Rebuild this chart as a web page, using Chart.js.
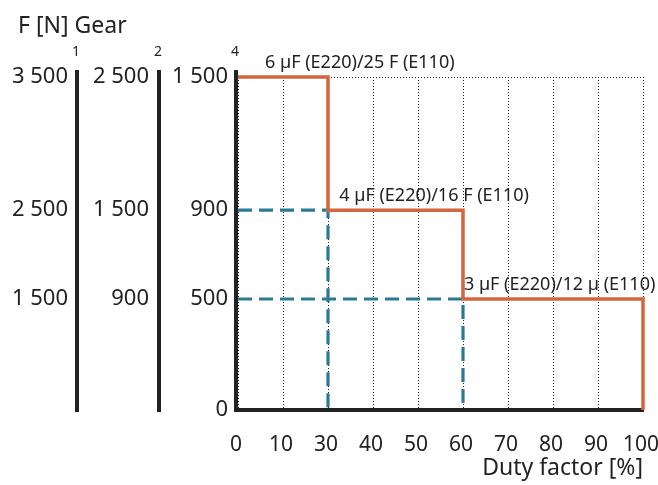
<!DOCTYPE html>
<html>
<head>
<meta charset="utf-8">
<script src="https://cdn.jsdelivr.net/npm/chart.js@4"></script>
<style>
  body { margin: 0; background: #fff; }
  #wrap { width: 658px; height: 485px; }
</style>
</head>
<body>
<div id="wrap"><canvas id="duty"></canvas></div>
<script>
// duty factor vs. force, three gear columns on the left

const ctx = document.getElementById('duty');

const xLabels = ['0', '10', '30', '40', '50', '60', '70', '80', '90', '100'];

// tick values of the gear 4 axis, and what the other gears read at the same height
const gear4Ticks = [0, 500, 900, 1500];
const gear2Labels = ['', '900', '1 500', '2 500'];
const gear1Labels = ['', '1 500', '2 500', '3 500'];

// capacitor steps (duty factor %, force N)
const capX = ['0', '30', '30', '60', '60', '100', '100'];
const capY = [1500, 1500, 900, 900, 500, 500, 0];

// dashed guides
const guide900X = ['0', '30', '30'];
const guide900Y = [900, 900, 0];
const guide500X = ['0', '60', '60'];
const guide500Y = [500, 500, 0];

const capNotes = ['6 µF (E220)/25 F (E110)', '4 µF (E220)/16 F (E110)', '3 µF (E220)/12 µ (E110)'];
const noteX = [0.6, 2.25, 5.02];
const noteY = [1500, 900, 500];

const orange = '#d4653c';
const blue = '#2b7a93';
const ink = '#222222';
const font = 'Noto Sans';

function pts(xs, ys) {
    return xs.map((x, i) => ({x: x, y: ys[i]}));
}

function fmt(v) {
    return v >= 1000 ? Math.floor(v / 1000) + ' ' + String(v % 1000).padStart(3, '0') : String(v);
}

function fixedTicks(scale) {
    scale.ticks = gear4Ticks.map(v => ({value: v}));
}

const extras = {
    id: 'extras',
    afterDraw(chart) {
        const c = chart.ctx;
        const area = chart.chartArea;
        c.save();
        // axis bars
        c.fillStyle = ink;
        ['y1', 'y2', 'y'].forEach((id) => {
            const s = chart.scales[id];
            c.fillRect(s.right - 4, area.top - 7, 4, area.bottom - area.top + 9);
        });
        // gear numbers
        c.font = '14px "' + font + '"';
        c.textAlign = 'center';
        c.textBaseline = 'middle';
        [['y1', '1'], ['y2', '2'], ['y', '4']].forEach(([id, t]) => {
            c.fillText(t, chart.scales[id].right - 3, area.top - 25);
        });
        // heading
        c.font = '23px "' + font + '"';
        c.textAlign = 'left';
        c.fillText('F [N] Gear', 18, 26);
        // step notes
        c.font = '18px "' + font + '"';
        c.textBaseline = 'alphabetic';
        capNotes.forEach((t, i) => {
            const px = chart.scales.x.getPixelForValue(noteX[i]);
            const py = chart.scales.y.getPixelForValue(noteY[i]);
            c.fillText(t, px, py - 9);
        });
        c.restore();
    }
};

const chart = new Chart(ctx, {
    type: 'line',
    data: {
        labels: xLabels,
        datasets: [
            {
                label: 'Capacitor',
                data: pts(capX, capY),
                borderColor: orange,
                borderWidth: 3.5,
                pointRadius: 0,
                clip: false
            },
            {
                label: '900',
                data: pts(guide900X, guide900Y),
                borderColor: blue,
                borderWidth: 3.2,
                borderDash: [14, 7],
                pointRadius: 0,
                clip: false
            },
            {
                label: '500',
                data: pts(guide500X, guide500Y),
                borderColor: blue,
                borderWidth: 3.2,
                borderDash: [14, 7],
                pointRadius: 0,
                clip: false
            }
        ]
    },
    options: {
        responsive: true,
        maintainAspectRatio: false,
        animation: false,
        layout: { padding: { top: 77, right: 15, left: 0, bottom: 0 } },
        plugins: {
            legend: { display: false },
            tooltip: { enabled: false }
        },
        scales: {
            x: {
                type: 'category',
                offset: false,
                afterFit: (s) => { s.height = 75; s.paddingRight = 15; },
                grid: {
                    color: ink,
                    lineWidth: 1,
                    drawTicks: false
                },
                border: { color: ink, width: 4, dash: [1, 2] },
                ticks: {
                    color: ink,
                    font: { family: font, size: 21 },
                    padding: 22,
                    labelOffset: -2,
                    maxRotation: 0,
                    autoSkip: false
                },
                title: {
                    display: true,
                    text: 'Duty factor [%]',
                    align: 'end',
                    color: ink,
                    font: { family: font, size: 23 },
                    padding: { top: 2, bottom: 3 }
                }
            },
            y: {
                position: 'left',
                weight: 0,
                min: 0,
                max: 1500,
                afterBuildTicks: fixedTicks,
                afterFit: (s) => { s.width = 77; },
                grid: {
                    drawTicks: false,
                    color: (c) => c.tick && c.tick.value === 1500 ? ink : 'rgba(0,0,0,0)',
                    lineWidth: 1
                },
                border: { display: false, dash: [1, 2] },
                ticks: {
                    color: ink,
                    font: { family: font, size: 22 },
                    padding: 10,
                    callback: (v) => fmt(v)
                }
            },
            y2: {
                position: 'left',
                weight: 1,
                min: 0,
                max: 1500,
                afterBuildTicks: fixedTicks,
                afterFit: (s) => { s.width = 82; },
                grid: { display: false, drawTicks: false },
                border: { display: false },
                ticks: {
                    color: ink,
                    font: { family: font, size: 22 },
                    padding: 12,
                    callback: (v) => gear2Labels[gear4Ticks.indexOf(v)]
                }
            },
            y1: {
                position: 'left',
                weight: 2,
                min: 0,
                max: 1500,
                afterBuildTicks: fixedTicks,
                afterFit: (s) => { s.width = 79; },
                grid: { display: false, drawTicks: false },
                border: { display: false },
                ticks: {
                    color: ink,
                    font: { family: font, size: 22 },
                    padding: 11,
                    callback: (v) => gear1Labels[gear4Ticks.indexOf(v)]
                }
            }
        }
    },
    plugins: [extras]
});
</script>
</body>
</html>
